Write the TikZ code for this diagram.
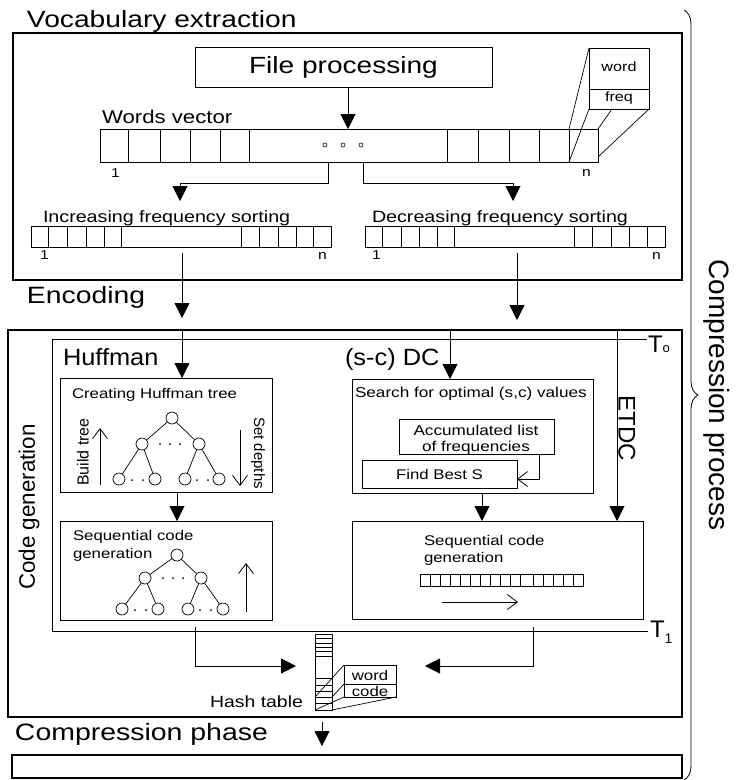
\documentclass[tikz,border=0pt]{standalone}
\usepackage{fontspec}
\setmainfont{Liberation Sans}
\newfontfamily\wf[FakeStretch=1.2]{Liberation Sans}
\newfontfamily\wfb[FakeStretch=1.08]{Liberation Sans}
\usetikzlibrary{arrows.meta,decorations.pathreplacing,calc}
\newcommand\myfs[1]{\fontsize{#1pt}{#1pt}\selectfont}
\begin{document}
\begin{tikzpicture}[x=1pt,y=-1pt,
  outer/.style={draw, line width=1.6pt, inner sep=0pt, outer sep=0pt, anchor=north west},
  inbox/.style={draw, line width=0.9pt, inner sep=0pt, outer sep=0pt, anchor=north west},
  cell/.style={line width=0.7pt},
  thin/.style={line width=0.7pt},
  farrow/.style={line width=0.8pt, -{Triangle[width=15pt,length=15pt]}},
  oarrow/.style={line width=0.8pt, -{Straight Barb[length=10pt,width=15pt]}},
  lbl/.style={inner sep=0pt, outer sep=0pt, anchor=base west},
  cbl/.style={inner sep=0pt, outer sep=0pt, anchor=base},
  ctr/.style={inner sep=0pt, outer sep=0pt, anchor=center},
  circ/.style={circle, draw, line width=0.7pt, minimum size=12pt, inner sep=0pt, fill=white},
  dotn/.style={circle, fill, minimum size=2pt, inner sep=0pt},
  odot/.style={circle, draw, line width=0.6pt, minimum size=4pt, inner sep=0pt},
]
\useasboundingbox (0,0) rectangle (739,780);

% ---------------- Vocabulary extraction ----------------
\node[lbl] (tvoc) at (27,27) {\myfs{23.5}\wf Vocabulary extraction};
\node[outer, minimum width=669pt, minimum height=247pt] (vocab) at (13,33) {};
\node[inbox, minimum width=297pt, minimum height=40pt] (fileproc) at (195,47) {};
\node[ctr] (tfile) at (fileproc.center) {\myfs{23.4}\wf File processing};

\node[lbl] (twv) at (102,123) {\myfs{18.5}\wf Words vector};
\node[inbox, minimum width=498pt, minimum height=33pt] (wv) at (100,129) {};
\foreach \x in {128,160,190,220,249,447,478,509,539,569} \draw[cell] (\x,129) -- (\x,162);
\foreach \x [count=\i] in {325,343,361} \node[odot] (wd\i) at (\x,145) {};
\node[lbl] (wv1) at (111,177) {\myfs{13}\wf 1};
\node[lbl] (wvn) at (582,176) {\myfs{13}\wf n};

% zoomed entry word/freq
\node[inbox, minimum width=60pt, minimum height=61pt] (wf) at (589,48) {};
\draw[cell] (589,89) -- (649,89);
\node[ctr] (tword) at (619,67) {\myfs{13.5}\wf word};
\node[ctr] (tfreq) at (619,98) {\myfs{13.5}\wf freq};
\draw[thin] (wf.north west) -- (569,129);
\draw[thin] (wf.south west) -- (569,162);
\draw[thin] (612,109) -- (598,129);
\draw[thin] (wf.south east) -- (598,157);

\coordinate (fpa) at (348,87);
\coordinate (fpb) at (348,129);
\draw[farrow] (fpa) -- (fpb);

\node[lbl] (tinc) at (43,222) {\myfs{16.4}\wf Increasing frequency sorting};
\node[lbl] (tdec) at (372,222) {\myfs{16.4}\wf Decreasing frequency sorting};
\node[inbox, minimum width=300pt, minimum height=21pt] (inc) at (31,226) {};
\node[inbox, minimum width=300pt, minimum height=21pt] (dec) at (365,226) {};
\foreach \x in {48,67,86,104,121,241,259,278,296,313} \draw[cell] (\x,226) -- (\x,247);
\foreach \x in {382,401,419,437,454,574,592,611,629,647} \draw[cell] (\x,226) -- (\x,247);
\node[lbl] (inc1) at (40,259) {\myfs{13}\wf 1};
\node[lbl] (incn) at (318,259) {\myfs{13}\wf n};
\node[lbl] (dec1) at (372,259) {\myfs{13}\wf 1};
\node[lbl] (decn) at (652,259) {\myfs{13}\wf n};

\coordinate (wvl) at (328,162);
\coordinate (wvr) at (363,162);
\draw[farrow] (wvl) -- (328,183) -- (180,183) -- (180,201);
\draw[farrow] (wvr) -- (363,183) -- (513,183) -- (513,201);

% ---------------- Encoding ----------------
\node[lbl] (tenc) at (27,303) {\myfs{23.6}\wf Encoding};
\draw[farrow] (182,253) -- (182,318);
\draw[farrow] (517,253) -- (517,320);
\node[outer, minimum width=674pt, minimum height=387pt] (enc) at (8,330) {};

\draw[thin] (647,339) -- (52,339) -- (52,631) -- (648,631);
\node[lbl] (t0) at (648,352) {\myfs{24}T\myfs{13}o};
\node[lbl] (t1) at (650,637) {\myfs{24}T\raisebox{-6pt}{\myfs{14}1}};
\node[ctr, rotate=90] (tcg) at (29,507) {\myfs{22.4}Code generation};

% Huffman
\node[lbl] (thuf) at (63,365) {\myfs{23.5}\wfb Huffman};
\node[inbox, minimum width=212pt, minimum height=114pt] (hc) at (60,378) {};
\node[lbl] (thc) at (72,398) {\myfs{14}\wf Creating Huffman tree};
\draw[farrow] (182,330) -- (182,378);

\node[circ] (a0) at (172,418) {};
\node[circ] (a1) at (142,444) {};
\node[circ] (a2) at (199,444) {};
\node[circ] (a3) at (119,479) {};
\node[circ] (a4) at (155,479) {};
\node[circ] (a5) at (185,479) {};
\node[circ] (a6) at (219,479) {};
\draw[thin] (a0) -- (a1) (a0) -- (a2) (a1) -- (a3) (a1) -- (a4) (a2) -- (a5) (a2) -- (a6);
\foreach \x in {160,170,180} \node[dotn] at (\x,444) {};
\foreach \x in {132,143,197,208} \node[dotn] at (\x,480) {};
\node[ctr, rotate=90] (tbt) at (83,452) {\myfs{16}Build tree};
\node[ctr, rotate=-90] (tsd) at (258,453) {\myfs{15}Set depths};
\draw[oarrow] (100,485) -- (100,428);
\draw[oarrow] (240,430) -- (240,486);

\node[inbox, minimum width=212pt, minimum height=99pt] (hs) at (60,521) {};
\draw[farrow] (177,492) -- (177,521);
\node[lbl] (ths1) at (73,540) {\myfs{14}\wf Sequential code};
\node[lbl] (ths2) at (73,558) {\myfs{14}\wf generation};
\node[circ] (b0) at (177,555) {};
\node[circ] (b1) at (145,578) {};
\node[circ] (b2) at (201,578) {};
\node[circ] (b3) at (122,609) {};
\node[circ] (b4) at (158,609) {};
\node[circ] (b5) at (188,609) {};
\node[circ] (b6) at (223,609) {};
\draw[thin] (b0) -- (b1) (b0) -- (b2) (b1) -- (b3) (b1) -- (b4) (b2) -- (b5) (b2) -- (b6);
\foreach \x in {163,173,183} \node[dotn] at (\x,578) {};
\foreach \x in {135,146,200,211} \node[dotn] at (\x,610) {};
\draw[oarrow] (246,612) -- (246,563);

% (s-c) DC
\node[lbl] (tdc) at (345,365) {\myfs{23.5}\wfb (s-c) DC};
\node[inbox, minimum width=241pt, minimum height=114pt] (sr) at (352,379) {};
\draw[farrow] (450,330) -- (450,379);
\node[lbl] (tsr) at (355,397) {\myfs{14.3}\wf Search for optimal (s,c) values};
\node[inbox, minimum width=155pt, minimum height=35pt] (acc) at (399,419) {};
\node[cbl] (tacc1) at (476,435) {\myfs{14.3}\wf Accumulated list};
\node[cbl] (tacc2) at (476,451) {\myfs{14.3}\wf of frequencies};
\node[inbox, minimum width=155pt, minimum height=28pt] (fb) at (362,460) {};
\node[ctr] (tfb) at (fb.center) {\myfs{14}\wf Find Best S};
\draw[oarrow] (539,454) -- (539,479) -- (fb.east |- 0,479);

\node[inbox, minimum width=291pt, minimum height=98pt] (ds) at (352,521) {};
\draw[farrow] (482,493) -- (482,521);
\draw[farrow] (617,330) -- (617,521);
\node[ctr, rotate=-90] (tetdc) at (627,428) {\myfs{24}ETDC};
\node[lbl] (tds1) at (424,545) {\myfs{14}\wf Sequential code};
\node[lbl] (tds2) at (424,562) {\myfs{14}\wf generation};
\node[inbox, minimum width=163pt, minimum height=12pt] (sv) at (420,574) {};
\foreach \x in {430,440,450,460,470,480,490,500,510,520,533,543,553,563,573} \draw[cell] (\x,574) -- (\x,586);
\draw[oarrow] (442,602) -- (518,602);

% Hash table
\node[inbox, minimum width=17pt, minimum height=76pt] (ht) at (315,634) {};
\foreach \y in {638,643,647,651,656,678,685,691,697,703} \draw[cell] (315,\y) -- (332,\y);
\node[inbox, minimum width=52pt, minimum height=32pt, fill=white] (wc) at (344,665) {};
\draw[cell] (344,684) -- (396,684);
\node[ctr] (tw2) at (370,675) {\myfs{14}\wf word};
\node[ctr] (tc2) at (370,691) {\myfs{14}\wf code};
\draw[thin] (wc.north west) -- (315,697);
\draw[thin] (344,684) -- (332,697);
\draw[thin] (wc.south west) -- (315,710);
\draw[thin] (wc.south east) -- (332,710);
\node[lbl] (tht) at (210,707) {\myfs{16.2}\wf Hash table};

\draw[farrow] (195,627) -- (195,666) -- (296,666);
\draw[farrow] (533,627) -- (533,666) -- (425,666);

% ---------------- Compression phase ----------------
\node[lbl] (tcp) at (15,740) {\myfs{23.7}\wf Compression phase};
\node[outer, minimum width=670pt, minimum height=23pt] (cp) at (12,755) {};
\coordinate (cpa) at (322,722);
\coordinate (cpb) at (322,746);
\draw[farrow] (cpa) -- (cpb);

% brace
\draw[decorate, decoration={brace, amplitude=14pt}, line width=0.8pt] (684,10) -- (684,780);
\node[ctr, rotate=-90] (tcpp) at (717,395) {\myfs{28}Compression process};
\end{tikzpicture}
\end{document}
